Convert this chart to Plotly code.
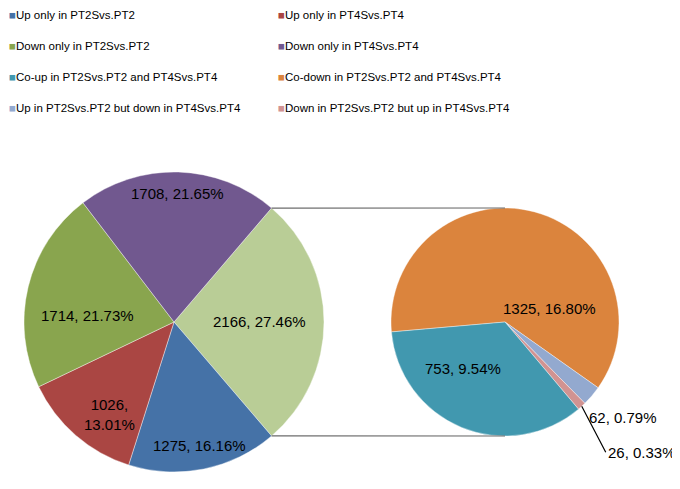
import math
import plotly.graph_objects as go

# -----------------------------------------------
# Dados
# -----------------------------------------------
categorias = [
    'Up only in PT2Svs.PT2',
    'Up only in PT4Svs.PT4',
    'Down only in PT2Svs.PT2',
    'Down only in PT4Svs.PT4',
    'Co-up in PT2Svs.PT2 and PT4Svs.PT4',
    'Co-down in PT2Svs.PT2 and PT4Svs.PT4',
    'Up in PT2Svs.PT2 but down in PT4Svs.PT4',
    'Down in PT2Svs.PT2 but up in PT4Svs.PT4',
]
contagens = [1275, 1026, 1714, 1708, 753, 1325, 62, 26]
cores = ['#4572A7', '#AA4643', '#89A54E', '#71588F',
         '#4198AF', '#DB843D', '#93A9CF', '#D19392']
cor_outros = '#B9CD96'

total = sum(contagens)
outros = sum(contagens[4:])

# a página tem 8 px de margem no body: figura um pouco menor que a janela
W, H = 672, 481
FONTE = 'Liberation Sans'


def rotulo(v, quebra=False):
    sep = ',<br>' if quebra else ', '
    return f'{v}{sep}{v / total * 100:.2f}%'


# pizza principal (esquerda): "outros" + 4 categorias, sentido horário
esq_vals = [outros] + contagens[:4]
esq_cores = [cor_outros] + cores[:4]
esq_rot = 90 - (outros / total) * 360 / 2
# rótulos: (desvio do ângulo médio, fração do raio)
esq_pos = [(0, 0.57), (0, 0.84), (-6, 0.75), (-9, 0.58), (0, 0.86)]

# pizza secundária (direita): co-down, up/down, down/up, co-up
dir_idx = [5, 6, 7, 4]
dir_vals = [contagens[i] for i in dir_idx]
dir_cores = [cores[i] for i in dir_idx]
dir_rot = 265

# geometria (pixels da figura)
cx1, cy1, r1 = 166, 314, 150
cx2, cy2, r2 = 497, 314, 114


def dominio(cx, cy, r):
    return dict(x=[(cx - r) / W, (cx + r) / W],
                y=[(H - cy - r) / H, (H - cy + r) / H])


def ponto(cx, cy, r, ang):
    a = math.radians(ang)
    return (cx + r * math.sin(a)) / W, (H - cy + r * math.cos(a)) / H


def angulos_medios(vals, rot):
    soma = sum(vals)
    ang, meios = rot, []
    for v in vals:
        passo = v / soma * 360
        meios.append(ang + passo / 2)
        ang += passo
    return meios


fig = go.Figure()

fig.add_trace(go.Pie(
    values=esq_vals, labels=['Outros'] + categorias[:4],
    textinfo='none',
    marker=dict(colors=esq_cores, line=dict(color='white', width=0.4)),
    sort=False, direction='clockwise', rotation=esq_rot,
    domain=dominio(cx1, cy1, r1), showlegend=False,
))

fig.add_trace(go.Pie(
    values=dir_vals, labels=[categorias[i] for i in dir_idx],
    textinfo='none',
    marker=dict(colors=dir_cores, line=dict(color='white', width=0.4)),
    sort=False, direction='clockwise', rotation=dir_rot,
    domain=dominio(cx2, cy2, r2), showlegend=False,
))

fonte_rot = dict(family=FONTE, size=15, color='black')

# rótulos da pizza principal
for v, a, (da, k) in zip(esq_vals, angulos_medios(esq_vals, esq_rot), esq_pos):
    px, py = ponto(cx1, cy1, r1 * k, a + da)
    fig.add_annotation(x=px, y=py, xref='paper', yref='paper', showarrow=False,
                       xanchor='center', yanchor='middle',
                       text=rotulo(v, quebra=(v / total < 0.14)), font=fonte_rot)

# rótulos da pizza secundária
meios2 = angulos_medios(dir_vals, dir_rot)
pos2 = [(73, 0.41), None, None, (222, 0.55)]  # (ângulo, fração do raio) p/ fatias grandes
for v, p in zip(dir_vals, pos2):
    if p is not None:
        px, py = ponto(cx2, cy2, r2 * p[1], p[0])
        fig.add_annotation(x=px, y=py, xref='paper', yref='paper', showarrow=False,
                           xanchor='center', yanchor='middle',
                           text=rotulo(v), font=fonte_rot)

# fatias pequenas: 62 (sem linha) e 26 (com linha de chamada)
px, py = ponto(cx2, cy2, r2, meios2[1])
fig.add_annotation(x=px, y=py, xref='paper', yref='paper', text=rotulo(dir_vals[1]),
                   showarrow=False, xanchor='left', yanchor='middle',
                   xshift=-5, yshift=-22, font=fonte_rot)
px, py = ponto(cx2, cy2, r2, meios2[2])
fig.add_annotation(x=px, y=py, xref='paper', yref='paper', text=rotulo(dir_vals[2]),
                   showarrow=True, arrowhead=0, arrowwidth=1.2, arrowcolor='black',
                   ax=24, ay=46, xanchor='left', yanchor='middle', font=fonte_rot)

# linhas de ligação entre as pizzas
frac_outros = outros / total * 360
for a1, a2 in [(esq_rot, 0), (esq_rot + frac_outros, 180)]:
    x0, y0 = ponto(cx1, cy1, r1, a1)
    x1, y1 = ponto(cx2, cy2, r2, a2)
    fig.add_shape(type='line', xref='paper', yref='paper',
                  x0=x0, y0=y0, x1=x1, y1=y1,
                  line=dict(color='#6a6a6a', width=1.2))

# legenda (duas colunas) – o quadradinho colorido vai no próprio texto
for i, (nome, cor) in enumerate(zip(categorias, cores)):
    fig.add_trace(go.Scatter(
        x=[None], y=[None], mode='markers',
        name=f'<span style="color:{cor}">■</span>{nome}',
        marker=dict(symbol='square', size=7, color='rgba(0,0,0,0)'),
        legendgroup=nome, legend='legend' if i % 2 == 0 else 'legend2',
    ))

leg = dict(font=dict(family=FONTE, size=11.5, color='black'),
           yanchor='top', y=1.0176, xanchor='left', bgcolor='rgba(0,0,0,0)',
           tracegroupgap=12, itemwidth=30)

fig.update_layout(
    width=W, height=H,
    margin=dict(l=0, r=0, t=0, b=0, autoexpand=False),
    paper_bgcolor='white', plot_bgcolor='white',
    xaxis=dict(visible=False), yaxis=dict(visible=False),
    legend=dict(leg, x=-39 / W),
    legend2=dict(leg, x=230 / W),
)

fig.write_html('out.html')
print('Salvo: out.html')
